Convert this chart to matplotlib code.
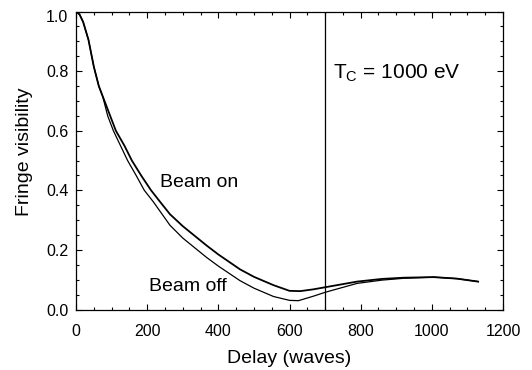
import matplotlib
matplotlib.use("Agg")
from matplotlib import pyplot as plt
from matplotlib.ticker import MultipleLocator, FuncFormatter

# delay (waves) and fringe visibility
delay_on = [0, 10, 20, 35, 50, 64, 80, 96, 112, 136, 157, 183, 211, 234, 264, 300,
            367, 400, 461, 500, 555, 600, 630, 667, 700, 790, 860, 920, 1005, 1070, 1130]
vis_on = [1.0, 0.99, 0.965, 0.905, 0.815, 0.75, 0.70, 0.65, 0.60, 0.55, 0.50, 0.45, 0.40, 0.365, 0.32, 0.28,
          0.215, 0.185, 0.135, 0.110, 0.082, 0.063, 0.062, 0.068, 0.075, 0.094, 0.103, 0.107, 0.109, 0.104, 0.094]

delay_off = [0, 10, 20, 35, 50, 64, 75, 89, 105, 125, 145, 169, 192, 217, 264, 300,
             367, 400, 461, 500, 555, 600, 625, 667, 700, 790, 860, 920, 1005, 1070, 1130]
vis_off = [1.0, 0.99, 0.965, 0.905, 0.815, 0.75, 0.715, 0.65, 0.60, 0.55, 0.50, 0.45, 0.40, 0.362, 0.283, 0.24,
           0.175, 0.146, 0.097, 0.072, 0.044, 0.031, 0.030, 0.045, 0.058, 0.088, 0.099, 0.105, 0.109, 0.104, 0.094]

t_cut = 700

plt.rcParams["font.family"] = ["Liberation Sans", "DejaVu Sans"]
plt.rcParams["mathtext.fontset"] = "custom"
plt.rcParams["mathtext.rm"] = "Liberation Sans"
plt.rcParams["mathtext.it"] = "Liberation Sans"

fig = plt.figure(figsize=(5.32, 3.70), dpi=100)
ax = fig.add_axes([0.1429, 0.1632, 0.8026, 0.8057])

ax.plot(delay_on, vis_on, color="black", lw=1.3)
ax.plot(delay_off, vis_off, color="black", lw=0.9)
ax.axvline(t_cut, color="black", lw=0.9)

ax.text(236, 0.427, "Beam on", fontsize=14, va="center")
ax.text(205, 0.078, "Beam off", fontsize=14, va="center")
ax.text(722, 0.794, r"T$_\mathrm{C}$ = 1000 eV", fontsize=15, va="center")

ax.set_xlim(0, 1200)
ax.set_ylim(0, 1.0)
ax.xaxis.set_major_locator(MultipleLocator(200))
ax.xaxis.set_minor_locator(MultipleLocator(50))
ax.yaxis.set_major_locator(MultipleLocator(0.2))
ax.yaxis.set_minor_locator(MultipleLocator(0.05))
# the 1.0 label is drawn separately below, hanging under the top edge
ax.yaxis.set_major_formatter(FuncFormatter(lambda v, p: "" if v > 0.99 else f"{v:.1f}"))

ax.tick_params(which="both", direction="in", top=True, right=True, width=0.8)
ax.tick_params(which="major", length=4.5)
ax.tick_params(which="minor", length=2.5)
ax.tick_params(axis="x", pad=10, labelsize=11.5)
ax.tick_params(axis="y", pad=5.5, labelsize=11.5)
for s in ax.spines.values():
    s.set_linewidth(0.9)

ax.annotate("1.0", xy=(0, 1), xycoords="axes fraction", xytext=(-5.5, 1),
            textcoords="offset points", ha="right", va="top", fontsize=11.5)

ax.set_xlabel("Delay (waves)", fontsize=14, labelpad=8)
ax.set_ylabel("Fringe visibility", fontsize=14)
ax.yaxis.set_label_coords(-0.10, 0.53)

plt.savefig("out.png", dpi=100)
